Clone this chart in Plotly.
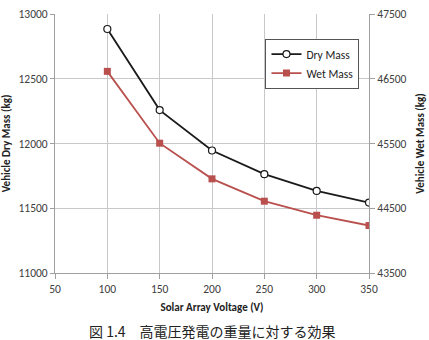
import plotly.graph_objects as go

voltage = [100, 150, 200, 250, 300, 350]
dry_mass = [12884, 12258, 11946, 11763, 11634, 11544]
wet_mass = [46614, 45505, 44954, 44609, 44392, 44233]

x_ticks = [50, 100, 150, 200, 250, 300, 350]
left_ticks = [11000, 11500, 12000, 12500, 13000]
right_ticks = [43500, 44500, 45500, 46500, 47500]

font_main = "Carlito, Lato, sans-serif"
tick_color = "#404040"
grid_color = "#c8c8c8"
axis_color = "#a0a0a0"

fig = go.Figure()
fig.add_trace(go.Scatter(
    x=voltage, y=dry_mass, name="Dry Mass", mode="lines+markers",
    line=dict(color="#1a1a1a", width=1.8),
    marker=dict(symbol="circle", size=7, color="white", line=dict(color="#1a1a1a", width=1.2)),
))
fig.add_trace(go.Scatter(
    x=voltage, y=wet_mass, name="Wet Mass", mode="lines+markers", yaxis="y2",
    line=dict(color="#b9504d", width=1.8),
    marker=dict(symbol="square", size=7, color="#b9504d"),
))

fig.update_layout(
    width=429, height=340,
    margin=dict(l=55, r=60, t=14, b=67),
    paper_bgcolor="white", plot_bgcolor="white",
    font=dict(family=font_main, size=11.5, color=tick_color),
    showlegend=True,
    legend=dict(
        x=0.82, y=0.905, xanchor="center", yanchor="top",
        bordercolor="#555555", borderwidth=1, bgcolor="white",
        font=dict(size=11.5, color="#222222"),
        tracegroupgap=0, itemwidth=30,
    ),
    xaxis=dict(
        range=[50, 350], tickvals=x_ticks, tickformat="d", showgrid=True, gridcolor=grid_color,
        showline=True, linecolor=axis_color, ticks="outside", ticklen=5, tickcolor=axis_color,
        zeroline=False, automargin=False,
        title=dict(text="<b>Solar Array Voltage (V)</b>", font=dict(size=11, color="#222222"), standoff=8),
    ),
    yaxis=dict(
        range=[11000, 13000], tickvals=left_ticks, tickformat="d", showgrid=True, gridcolor=grid_color,
        showline=True, linecolor=axis_color, ticks="outside", ticklen=4, tickcolor=axis_color,
        zeroline=False, automargin=False,
        title=dict(text="<b>Vehicle Dry Mass (kg)</b>", font=dict(size=11, color="#222222"), standoff=5),
    ),
    yaxis2=dict(
        range=[43500, 47500], tickvals=right_ticks, tickformat="d", overlaying="y", side="right",
        showgrid=False, showline=True, linecolor=axis_color, ticks="outside", ticklen=5,
        tickcolor=axis_color, zeroline=False, automargin=False,
        title=dict(text="<b>Vehicle Wet Mass (kg)</b>", font=dict(size=11, color="#222222"), standoff=10),
    ),
)

fig.add_annotation(
    text="図 1.4　高電圧発電の重量に対する効果",
    xref="paper", yref="paper", x=0.5, y=-0.178, xanchor="center", yanchor="top",
    showarrow=False, font=dict(family="Noto Sans CJK JP", size=14, color="#222222"),
)

fig.write_html("out.html")
